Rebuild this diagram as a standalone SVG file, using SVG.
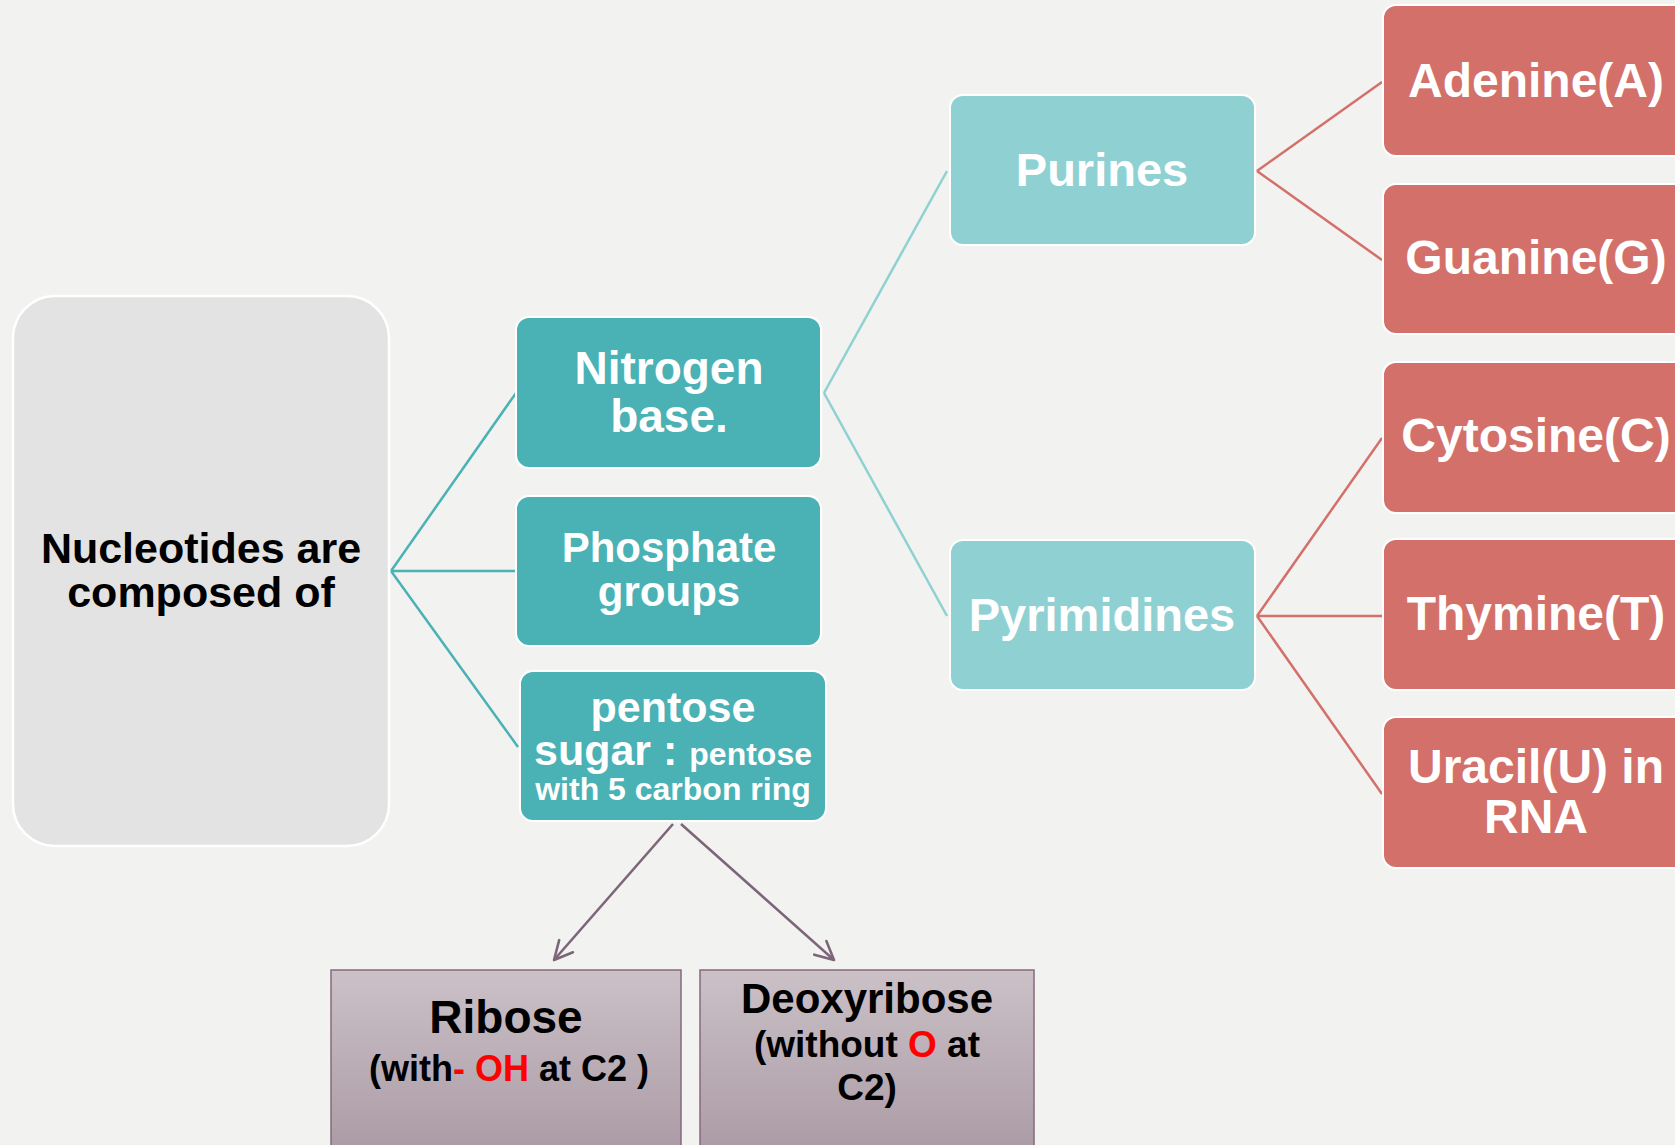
<svg xmlns="http://www.w3.org/2000/svg" width="1675" height="1145" viewBox="0 0 1675 1145">
<style>
.t{font-family:"Liberation Sans",Arial,sans-serif;font-weight:bold;text-anchor:middle}
.w{fill:#ffffff}
.k{fill:#000000}
.dark{fill:#4ab1b5;stroke:#ffffff;stroke-width:2}
.light{fill:#8fd1d3;stroke:#ffffff;stroke-width:2}
.red{fill:#d4706a;stroke:#ffffff;stroke-width:2}
.sug{fill:url(#sg);stroke:#86697f;stroke-width:1.5}
.c1{stroke:#4ab1b5;stroke-width:2.5;fill:none}
.c2{stroke:#8fd1d3;stroke-width:2.5;fill:none}
.c3{stroke:#d4706a;stroke-width:2.5;fill:none}
.c4{stroke:#7c6479;stroke-width:2.5;fill:none;marker-end:url(#ah)}
</style>
<defs>
<linearGradient id="sg" x1="0" y1="0" x2="0" y2="1">
<stop offset="0" stop-color="#cbc1c7"/>
<stop offset="1" stop-color="#aa99a4"/>
</linearGradient>
<marker id="ah" viewBox="0 0 12 12" refX="11" refY="6" markerWidth="22" markerHeight="22" orient="auto" markerUnits="userSpaceOnUse">
<path d="M1,1 L11,6 L1,11" fill="none" stroke="#7c6479" stroke-width="1.4" stroke-linecap="round" stroke-linejoin="round"/>
</marker>
</defs>
<rect width="1675" height="1145" fill="#f2f2f0"/>
<g id="connectors">
<line class="c1" x1="391" y1="571" x2="516" y2="393"/>
<line class="c1" x1="391" y1="571" x2="516" y2="571"/>
<line class="c1" x1="391" y1="571" x2="518" y2="747"/>
<line class="c2" x1="824" y1="393" x2="947" y2="171"/>
<line class="c2" x1="824" y1="393" x2="947" y2="616"/>
<line class="c3" x1="1257" y1="171" x2="1382" y2="82"/>
<line class="c3" x1="1257" y1="171" x2="1382" y2="260"/>
<line class="c3" x1="1257" y1="616" x2="1382" y2="438"/>
<line class="c3" x1="1257" y1="616" x2="1382" y2="616"/>
<line class="c3" x1="1257" y1="616" x2="1382" y2="794"/>
<line class="c4" x1="673" y1="824" x2="554" y2="960"/>
<line class="c4" x1="681" y1="824" x2="834" y2="960"/>
</g>
<g id="nucleotides">
<rect x="13" y="296" width="376" height="550" rx="42" fill="#e3e3e3" stroke="#ffffff" stroke-width="2.5"/>
<text class="t k" x="201" y="563" font-size="43">Nucleotides are</text>
<text class="t k" x="201" y="607" font-size="43">composed of</text>
</g>
<g id="nitrogen">
<rect class="dark" x="516" y="317" width="305" height="151" rx="13"/>
<text class="t w" x="669" y="384" font-size="46">Nitrogen</text>
<text class="t w" x="669" y="432" font-size="46">base.</text>
</g>
<g id="phosphate">
<rect class="dark" x="516" y="496" width="305" height="150" rx="13"/>
<text class="t w" x="669" y="562" font-size="42">Phosphate</text>
<text class="t w" x="669" y="606" font-size="42">groups</text>
</g>
<g id="pentose">
<rect class="dark" x="520" y="671" width="306" height="150" rx="13"/>
<text class="t w" x="673" y="722" font-size="43">pentose</text>
<text class="t w" x="673" y="765" font-size="43">sugar : <tspan font-size="32">pentose</tspan></text>
<text class="t w" x="673" y="800" font-size="32">with 5 carbon ring</text>
</g>
<g id="purines">
<rect class="light" x="950" y="95" width="305" height="150" rx="13"/>
<text class="t w" x="1102" y="186" font-size="47">Purines</text>
</g>
<g id="pyrimidines">
<rect class="light" x="950" y="540" width="305" height="150" rx="13"/>
<text class="t w" x="1102" y="631" font-size="47">Pyrimidines</text>
</g>
<g id="adenine">
<rect class="red" x="1383" y="5" width="306" height="151" rx="13"/>
<text class="t w" x="1536" y="97" font-size="48">Adenine(A)</text>
</g>
<g id="guanine">
<rect class="red" x="1383" y="184" width="306" height="150" rx="13"/>
<text class="t w" x="1536" y="274" font-size="48">Guanine(G)</text>
</g>
<g id="cytosine">
<rect class="red" x="1383" y="362" width="306" height="151" rx="13"/>
<text class="t w" x="1536" y="452" font-size="48">Cytosine(C)</text>
</g>
<g id="thymine">
<rect class="red" x="1383" y="539" width="306" height="151" rx="13"/>
<text class="t w" x="1536" y="630" font-size="48">Thymine(T)</text>
</g>
<g id="uracil">
<rect class="red" x="1383" y="717" width="306" height="151" rx="13"/>
<text class="t w" x="1536" y="783" font-size="48">Uracil(U) in</text>
<text class="t w" x="1536" y="833" font-size="48">RNA</text>
</g>
<g id="ribose">
<rect class="sug" x="331" y="970" width="350" height="190"/>
<text class="t k" x="506" y="1033" font-size="46">Ribose</text>
<text class="t k" x="509" y="1081" font-size="36">(with<tspan fill="#ff0000">- OH</tspan> at C2 )</text>
</g>
<g id="deoxyribose">
<rect class="sug" x="700" y="970" width="334" height="190"/>
<text class="t k" x="867" y="1013" font-size="42">Deoxyribose</text>
<text class="t k" x="867" y="1057" font-size="37">(without <tspan fill="#ff0000">O</tspan> at</text>
<text class="t k" x="867" y="1100" font-size="37">C2)</text>
</g>
</svg>
